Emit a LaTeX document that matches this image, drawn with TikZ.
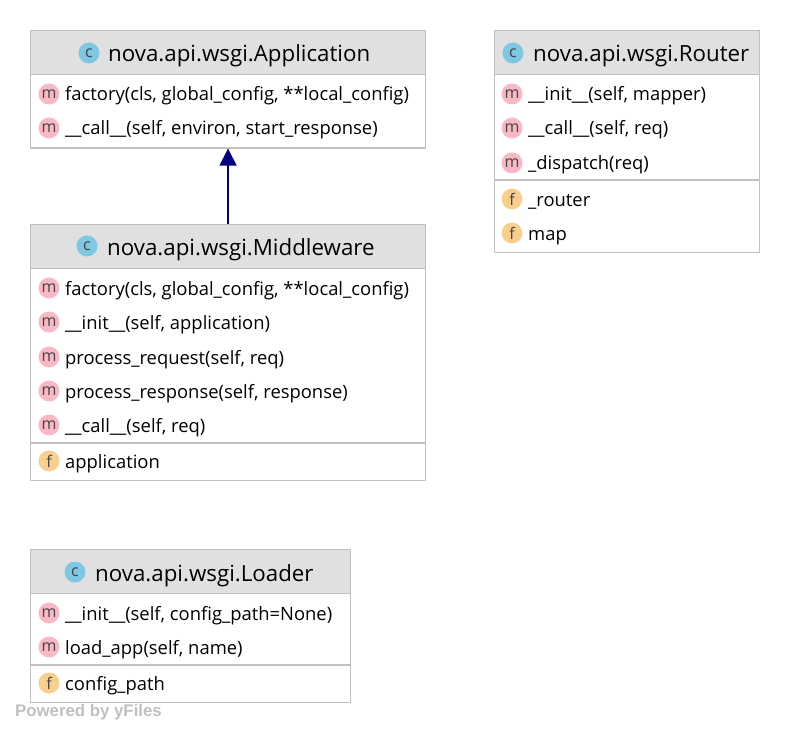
\documentclass[tikz,border=0pt]{standalone}
\usepackage{fontspec}
\setmainfont{Open Sans}
\newfontfamily\brandfont{Liberation Sans}
\usetikzlibrary{arrows.meta,positioning}
\definecolor{boxline}{HTML}{C0C0C0}
\definecolor{headfill}{HTML}{E0E0E0}
\definecolor{iconc}{HTML}{7EC8E3}
\definecolor{iconm}{HTML}{F9B8C6}
\definecolor{iconf}{HTML}{F8CF8C}
\definecolor{icontext}{HTML}{444444}
\definecolor{arrowblue}{HTML}{000080}
\tikzset{
  classbox/.style={draw=boxline, line width=1.1pt, fill=white, rectangle, inner sep=0pt, anchor=north west},
  headbox/.style={draw=boxline, line width=1.1pt, fill=headfill, rectangle, inner sep=0pt, anchor=north west},
  icon/.style={circle, minimum size=21pt, inner sep=0pt, text=icontext, font=\fontsize{16}{16}\selectfont},
  title/.style={anchor=base west, inner sep=0pt, font=\fontsize{22.3}{24}\selectfont},
  member/.style={anchor=base west, inner sep=0pt, font=\fontsize{18.4}{20}\selectfont},
}
% one row of a class: icon kind, x of icon, y, name, text
\newcommand{\rowitem}[5]{
  \node[icon, fill=icon#1] (#4i) at (#2,#3) {#1};
  \node[member] (#4) at (#2+16,#3+7) {#5};
}
\begin{document}
\begin{tikzpicture}[x=1pt,y=-1pt]
  \useasboundingbox (0,0) rectangle (790,733);
  % Application
  \node[classbox, minimum width=395pt, minimum height=117.5pt] (app) at (30,30) {};
  \node[headbox, minimum width=395pt, minimum height=44pt] (apphead) at (30,30) {};
  \node[icon, fill=iconc] (appc) at (89,53) {c};
  \node[title] (apptitle) at (108,62) {nova.api.wsgi.Application};
  \rowitem{m}{49}{94}{appa}{factory(cls, global\_config, **local\_config)}
  \rowitem{m}{49}{128}{appb}{\_\_call\_\_(self, environ, start\_response)}
  % Router
  \node[classbox, minimum width=265pt, minimum height=222pt] (rt) at (494,30) {};
  \node[headbox, minimum width=265pt, minimum height=44pt] (rthead) at (494,30) {};
  \node[icon, fill=iconc] (rtc) at (513,53) {c};
  \node[title] (rttitle) at (533,62) {nova.api.wsgi.Router};
  \rowitem{m}{512}{94}{rta}{\_\_init\_\_(self, mapper)}
  \rowitem{m}{512}{128}{rtb}{\_\_call\_\_(self, req)}
  \rowitem{m}{512}{163}{rtc}{\_dispatch(req)}
  \draw[draw=boxline, line width=1.1pt] (rt.west |- 0,180) -- (rt.east |- 0,180);
  \rowitem{f}{512}{199}{rtd}{\_router}
  \rowitem{f}{512}{233}{rte}{map}
  % Middleware
  \node[classbox, minimum width=395pt, minimum height=256pt] (mid) at (30,224) {};
  \node[headbox, minimum width=395pt, minimum height=44pt] (midhead) at (30,224) {};
  \node[icon, fill=iconc] (midc) at (87,246) {c};
  \node[title] (midtitle) at (107,255) {nova.api.wsgi.Middleware};
  \rowitem{m}{49}{288}{mida}{factory(cls, global\_config, **local\_config)}
  \rowitem{m}{49}{322}{midb}{\_\_init\_\_(self, application)}
  \rowitem{m}{49}{357}{midd}{process\_request(self, req)}
  \rowitem{m}{49}{391}{mide}{process\_response(self, response)}
  \rowitem{m}{49}{425}{midf}{\_\_call\_\_(self, req)}
  \draw[draw=boxline, line width=1.1pt] (mid.west |- 0,443) -- (mid.east |- 0,443);
  \rowitem{f}{49}{461}{midg}{application}
  % Loader
  \node[classbox, minimum width=320pt, minimum height=153pt] (ld) at (30,549) {};
  \node[headbox, minimum width=320pt, minimum height=44pt] (ldhead) at (30,549) {};
  \node[icon, fill=iconc] (ldc) at (75,572) {c};
  \node[title] (ldtitle) at (95,581) {nova.api.wsgi.Loader};
  \rowitem{m}{49}{613}{lda}{\_\_init\_\_(self, config\_path=None)}
  \rowitem{m}{49}{647}{ldb}{load\_app(self, name)}
  \draw[draw=boxline, line width=1.1pt] (ld.west |- 0,665) -- (ld.east |- 0,665);
  \rowitem{f}{49}{683}{ldd}{config\_path}
  % inheritance
  \draw[-{Triangle[length=17pt,width=17pt]}, arrowblue, line width=1.6pt] (midhead.north) -- (app.south);
  \node[anchor=base west, inner sep=0pt, text=boxline, font=\fontsize{16.8}{18}\brandfont\bfseries] (brand) at (15,716) {Powered by yFiles};
\end{tikzpicture}
\end{document}
